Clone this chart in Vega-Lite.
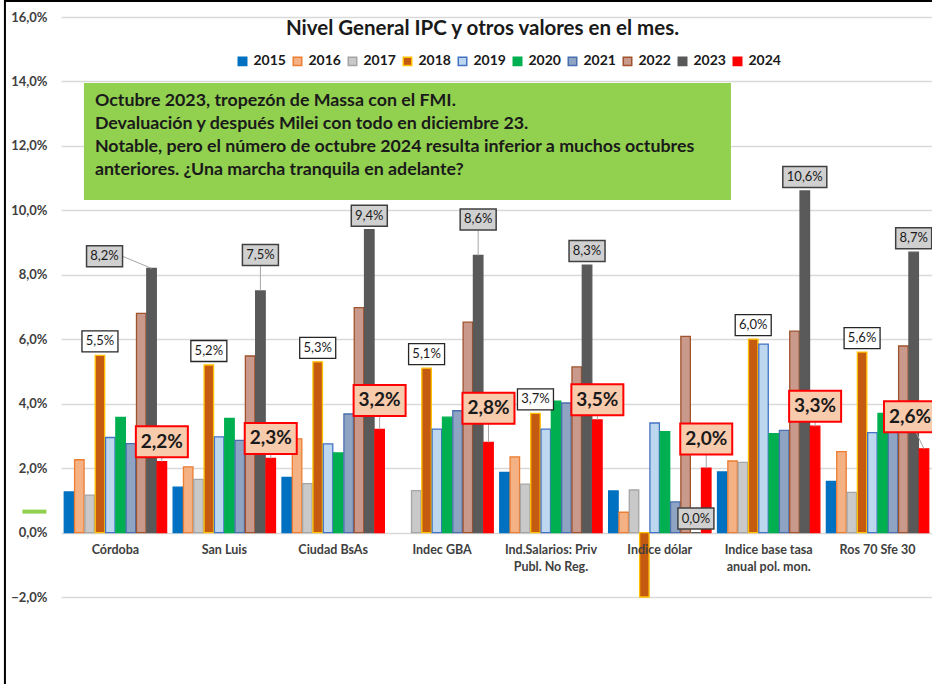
{
  "$schema": "https://vega.github.io/schema/vega-lite/v6.json",
  "width": 871,
  "height": 580,
  "autosize": {"type": "none"},
  "padding": {"left": 61, "top": 17, "right": 0, "bottom": 87},
  "background": "white",
  "config": {"view": {"stroke": null}, "font": "Lato"},
  "title": {"text": "Nivel General IPC y otros valores en el mes.", "font": "Lato", "fontSize": 20.5, "fontWeight": "bold", "color": "#1a1a1a", "anchor": "middle", "frame": "group", "offset": -42, "dx": -14},
  "datasets": {
    "ipc": [
      {"cat": "Córdoba", "year": "2015", "value": 1.26}, {"cat": "Córdoba", "year": "2016", "value": 2.26}, {"cat": "Córdoba", "year": "2017", "value": 1.16}, {"cat": "Córdoba", "year": "2018", "value": 5.5}, {"cat": "Córdoba", "year": "2019", "value": 2.95}, {"cat": "Córdoba", "year": "2020", "value": 3.57}, {"cat": "Córdoba", "year": "2021", "value": 2.76}, {"cat": "Córdoba", "year": "2022", "value": 6.8}, {"cat": "Córdoba", "year": "2023", "value": 8.2}, {"cat": "Córdoba", "year": "2024", "value": 2.2},
      {"cat": "San Luis", "year": "2015", "value": 1.41}, {"cat": "San Luis", "year": "2016", "value": 2.04}, {"cat": "San Luis", "year": "2017", "value": 1.65}, {"cat": "San Luis", "year": "2018", "value": 5.2}, {"cat": "San Luis", "year": "2019", "value": 2.97}, {"cat": "San Luis", "year": "2020", "value": 3.54}, {"cat": "San Luis", "year": "2021", "value": 2.86}, {"cat": "San Luis", "year": "2022", "value": 5.48}, {"cat": "San Luis", "year": "2023", "value": 7.5}, {"cat": "San Luis", "year": "2024", "value": 2.3},
      {"cat": "Ciudad BsAs", "year": "2015", "value": 1.71}, {"cat": "Ciudad BsAs", "year": "2016", "value": 2.91}, {"cat": "Ciudad BsAs", "year": "2017", "value": 1.52}, {"cat": "Ciudad BsAs", "year": "2018", "value": 5.3}, {"cat": "Ciudad BsAs", "year": "2019", "value": 2.75}, {"cat": "Ciudad BsAs", "year": "2020", "value": 2.47}, {"cat": "Ciudad BsAs", "year": "2021", "value": 3.68}, {"cat": "Ciudad BsAs", "year": "2022", "value": 6.98}, {"cat": "Ciudad BsAs", "year": "2023", "value": 9.4}, {"cat": "Ciudad BsAs", "year": "2024", "value": 3.2},
      {"cat": "Indec  GBA", "year": "2017", "value": 1.3}, {"cat": "Indec  GBA", "year": "2018", "value": 5.1}, {"cat": "Indec  GBA", "year": "2019", "value": 3.21}, {"cat": "Indec  GBA", "year": "2020", "value": 3.58}, {"cat": "Indec  GBA", "year": "2021", "value": 3.78}, {"cat": "Indec  GBA", "year": "2022", "value": 6.53}, {"cat": "Indec  GBA", "year": "2023", "value": 8.6}, {"cat": "Indec  GBA", "year": "2024", "value": 2.8},
      {"cat": "Ind.Salarios: Priv Publ. No Reg.", "year": "2015", "value": 1.87}, {"cat": "Ind.Salarios: Priv Publ. No Reg.", "year": "2016", "value": 2.35}, {"cat": "Ind.Salarios: Priv Publ. No Reg.", "year": "2017", "value": 1.5}, {"cat": "Ind.Salarios: Priv Publ. No Reg.", "year": "2018", "value": 3.7}, {"cat": "Ind.Salarios: Priv Publ. No Reg.", "year": "2019", "value": 3.21}, {"cat": "Ind.Salarios: Priv Publ. No Reg.", "year": "2020", "value": 4.08}, {"cat": "Ind.Salarios: Priv Publ. No Reg.", "year": "2021", "value": 4.02}, {"cat": "Ind.Salarios: Priv Publ. No Reg.", "year": "2022", "value": 5.14}, {"cat": "Ind.Salarios: Priv Publ. No Reg.", "year": "2023", "value": 8.3}, {"cat": "Ind.Salarios: Priv Publ. No Reg.", "year": "2024", "value": 3.5},
      {"cat": "Indice dólar", "year": "2015", "value": 1.29}, {"cat": "Indice dólar", "year": "2016", "value": 0.63}, {"cat": "Indice dólar", "year": "2017", "value": 1.32}, {"cat": "Indice dólar", "year": "2018", "value": -2.0}, {"cat": "Indice dólar", "year": "2019", "value": 3.4}, {"cat": "Indice dólar", "year": "2020", "value": 3.13}, {"cat": "Indice dólar", "year": "2021", "value": 0.95}, {"cat": "Indice dólar", "year": "2022", "value": 6.09}, {"cat": "Indice dólar", "year": "2023", "value": 0.0}, {"cat": "Indice dólar", "year": "2024", "value": 2.0},
      {"cat": "Indice base tasa anual pol. mon.", "year": "2015", "value": 1.88}, {"cat": "Indice base tasa anual pol. mon.", "year": "2016", "value": 2.22}, {"cat": "Indice base tasa anual pol. mon.", "year": "2017", "value": 2.18}, {"cat": "Indice base tasa anual pol. mon.", "year": "2018", "value": 6.0}, {"cat": "Indice base tasa anual pol. mon.", "year": "2019", "value": 5.85}, {"cat": "Indice base tasa anual pol. mon.", "year": "2020", "value": 3.07}, {"cat": "Indice base tasa anual pol. mon.", "year": "2021", "value": 3.17}, {"cat": "Indice base tasa anual pol. mon.", "year": "2022", "value": 6.25}, {"cat": "Indice base tasa anual pol. mon.", "year": "2023", "value": 10.6}, {"cat": "Indice base tasa anual pol. mon.", "year": "2024", "value": 3.3},
      {"cat": "Ros 70 Sfe 30", "year": "2015", "value": 1.59}, {"cat": "Ros 70 Sfe 30", "year": "2016", "value": 2.51}, {"cat": "Ros 70 Sfe 30", "year": "2017", "value": 1.25}, {"cat": "Ros 70 Sfe 30", "year": "2018", "value": 5.6}, {"cat": "Ros 70 Sfe 30", "year": "2019", "value": 3.1}, {"cat": "Ros 70 Sfe 30", "year": "2020", "value": 3.7}, {"cat": "Ros 70 Sfe 30", "year": "2021", "value": 3.4}, {"cat": "Ros 70 Sfe 30", "year": "2022", "value": 5.79}, {"cat": "Ros 70 Sfe 30", "year": "2023", "value": 8.7}, {"cat": "Ros 70 Sfe 30", "year": "2024", "value": 2.6}
    ]
  },
  "layer": [
    {
      "data": {"name": "ipc"},
      "transform": [{"calculate": "replace(format(datum.value, '.1f'), '.', ',') + '%'", "as": "lbl"}],
      "encoding": {
        "x": {
          "field": "cat", "type": "nominal", "title": null,
          "sort": ["Córdoba", "San Luis", "Ciudad BsAs", "Indec  GBA", "Ind.Salarios: Priv Publ. No Reg.", "Indice dólar", "Indice base tasa anual pol. mon.", "Ros 70 Sfe 30"],
          "scale": {"paddingInner": 0.06, "paddingOuter": 0.03},
          "axis": {"orient": "bottom", "offset": -64.4, "bandPosition": 0.5, "domain": false, "ticks": false, "labelAngle": 0, "labelAlign": "center", "labelFont": "Lato", "labelFontSize": 12.5, "labelFontWeight": "bold", "labelColor": "#404040", "labelPadding": 11, "labelLineHeight": 17, "labelBaseline": "top", "zindex": 1,
            "labelExpr": "datum.label == 'Ind.Salarios: Priv Publ. No Reg.' ? ['Ind.Salarios: Priv', 'Publ. No Reg.'] : datum.label == 'Indice base tasa anual pol. mon.' ? ['Indice base tasa', 'anual pol. mon.'] : datum.label"}
        },
        "xOffset": {"field": "year", "type": "nominal", "scale": {"paddingInner": 0.08}},
        "y": {
          "field": "value", "type": "quantitative", "title": null,
          "scale": {"domain": [-2, 16], "nice": false, "zero": false},
          "axis": {"values": [-2, 0, 2, 4, 6, 8, 10, 12, 14, 16], "grid": true, "gridColor": "#D9D9D9", "gridWidth": 1.5, "domain": false, "ticks": false, "labelFont": "Lato", "labelFontSize": 13, "labelFontWeight": "bold", "labelColor": "#404040", "labelPadding": 14,
            "labelExpr": "replace(format(datum.value, '.1f'), '.', ',') + '%'"}
        }
      },
      "layer": [
        {
          "mark": {"type": "bar", "strokeWidth": 1.3},
          "encoding": {
            "fill": {"field": "year", "type": "nominal", "title": null,
              "scale": {"domain": ["2015", "2016", "2017", "2018", "2019", "2020", "2021", "2022", "2023", "2024"], "range": ["#0070C0", "#F4B183", "#C9C9C9", "#C55A11", "#BDD7EE", "#00B050", "#8EA4C2", "#C99A8B", "#595959", "#FF0000"]},
              "legend": {"orient": "none", "legendX": 174.5, "legendY": 37, "direction": "horizontal", "columns": 10, "symbolType": "square", "symbolSize": 72, "symbolStrokeWidth": 1.5, "labelFont": "Lato", "labelFontSize": 14, "labelFontWeight": "bold", "labelColor": "#1a1a1a", "columnPadding": 3, "labelOffset": 4, "padding": 0}},
            "stroke": {"field": "year", "type": "nominal", "title": null,
              "scale": {"domain": ["2015", "2016", "2017", "2018", "2019", "2020", "2021", "2022", "2023", "2024"], "range": ["#0070C0", "#ED7D31", "#A5A5A5", "#FFC000", "#4472C4", "#00B050", "#4A6FB0", "#A0522D", "#595959", "#FF0000"]}}
          }
        },
        {
          "transform": [{"filter": "datum.year == '2018' && datum.value > 0"}],
          "mark": {"type": "point", "shape": "M-18,-24.5H18V-3.5H-18Z", "size": 4, "filled": true, "fill": "white", "stroke": "#262626", "strokeWidth": 1.3, "opacity": 1}
        },
        {
          "transform": [{"filter": "datum.year == '2018' && datum.value > 0"}],
          "mark": {"type": "text", "dy": -14, "baseline": "middle", "align": "center", "font": "Lato", "fontSize": 13, "color": "#1a1a1a"},
          "encoding": {"text": {"field": "lbl"}}
        },
        {
          "transform": [{"filter": "datum.year == '2023' && indexof(['Ciudad BsAs', 'Ind.Salarios: Priv Publ. No Reg.', 'Indice dólar', 'Indice base tasa anual pol. mon.', 'Ros 70 Sfe 30'], datum.cat) >= 0"}],
          "mark": {"type": "point", "size": 4, "filled": true, "fill": "#D0D0D0", "stroke": "#404040", "strokeWidth": 1.5, "opacity": 1},
          "encoding": {"shape": {"condition": {"test": "datum.value >= 10", "value": "M-22,-24.5H22V-3.5H-22Z"}, "value": "M-18,-24.5H18V-3.5H-18Z"}}
        },
        {
          "transform": [{"filter": "datum.year == '2023' && indexof(['Ciudad BsAs', 'Ind.Salarios: Priv Publ. No Reg.', 'Indice dólar', 'Indice base tasa anual pol. mon.', 'Ros 70 Sfe 30'], datum.cat) >= 0"}],
          "mark": {"type": "text", "dy": -14, "baseline": "middle", "align": "center", "font": "Lato", "fontSize": 13, "color": "#1a1a1a"},
          "encoding": {"text": {"field": "lbl"}}
        },
        {
          "transform": [{"filter": "datum.year == '2023' && (datum.cat == 'San Luis' || datum.cat == 'Indec  GBA')"}],
          "mark": {"type": "point", "shape": "M0,0V-25.5", "size": 4, "filled": false, "stroke": "#A6A6A6", "strokeWidth": 1, "opacity": 1}
        },
        {
          "transform": [{"filter": "datum.year == '2023' && (datum.cat == 'San Luis' || datum.cat == 'Indec  GBA')"}],
          "mark": {"type": "point", "shape": "M-18,-46.5H18V-25.5H-18Z", "size": 4, "filled": true, "fill": "#D0D0D0", "stroke": "#404040", "strokeWidth": 1.5, "opacity": 1}
        },
        {
          "transform": [{"filter": "datum.year == '2023' && (datum.cat == 'San Luis' || datum.cat == 'Indec  GBA')"}],
          "mark": {"type": "text", "dy": -36, "baseline": "middle", "align": "center", "font": "Lato", "fontSize": 13, "color": "#1a1a1a"},
          "encoding": {"text": {"field": "lbl"}}
        },
        {
          "transform": [{"filter": "datum.year == '2023' && datum.cat == 'Córdoba'"}],
          "mark": {"type": "point", "shape": "M-29,-12L0,0", "size": 4, "filled": false, "stroke": "#A6A6A6", "strokeWidth": 1, "opacity": 1}
        },
        {
          "transform": [{"filter": "datum.year == '2023' && datum.cat == 'Córdoba'"}],
          "mark": {"type": "point", "shape": "M-65,-22.5H-29V-1.5H-65Z", "size": 4, "filled": true, "fill": "#D0D0D0", "stroke": "#404040", "strokeWidth": 1.5, "opacity": 1}
        },
        {
          "transform": [{"filter": "datum.year == '2023' && datum.cat == 'Córdoba'"}],
          "mark": {"type": "text", "dx": -47, "dy": -12, "baseline": "middle", "align": "center", "font": "Lato", "fontSize": 13, "color": "#1a1a1a"},
          "encoding": {"text": {"field": "lbl"}}
        },
        {
          "transform": [{"filter": "datum.year == '2024' && indexof(['Córdoba', 'San Luis', 'Ind.Salarios: Priv Publ. No Reg.', 'Indice base tasa anual pol. mon.'], datum.cat) >= 0"}],
          "mark": {"type": "point", "shape": "M0,0V-4.5", "size": 4, "filled": false, "stroke": "#A6A6A6", "strokeWidth": 1, "opacity": 1}
        },
        {
          "transform": [{"filter": "datum.year == '2024' && indexof(['Córdoba', 'San Luis', 'Ind.Salarios: Priv Publ. No Reg.', 'Indice base tasa anual pol. mon.'], datum.cat) >= 0"}],
          "mark": {"type": "point", "shape": "M-26,-35.5H26V-4.5H-26Z", "size": 4, "filled": true, "fill": "#F8CBAD", "stroke": "#FF0000", "strokeWidth": 2, "opacity": 1}
        },
        {
          "transform": [{"filter": "datum.year == '2024' && indexof(['Córdoba', 'San Luis', 'Ind.Salarios: Priv Publ. No Reg.', 'Indice base tasa anual pol. mon.'], datum.cat) >= 0"}],
          "mark": {"type": "text", "dy": -20, "baseline": "middle", "align": "center", "font": "Lato", "fontSize": 19, "fontWeight": "bold", "color": "#1a1a1a"},
          "encoding": {"text": {"field": "lbl"}}
        },
        {
          "transform": [{"filter": "datum.year == '2024' && (datum.cat == 'Indice dólar' || datum.cat == 'Ciudad BsAs')"}],
          "mark": {"type": "point", "shape": "M0,0V-13.5", "size": 4, "filled": false, "stroke": "#A6A6A6", "strokeWidth": 1, "opacity": 1}
        },
        {
          "transform": [{"filter": "datum.year == '2024' && (datum.cat == 'Indice dólar' || datum.cat == 'Ciudad BsAs')"}],
          "mark": {"type": "point", "shape": "M-26,-44.5H26V-13.5H-26Z", "size": 4, "filled": true, "fill": "#F8CBAD", "stroke": "#FF0000", "strokeWidth": 2, "opacity": 1}
        },
        {
          "transform": [{"filter": "datum.year == '2024' && (datum.cat == 'Indice dólar' || datum.cat == 'Ciudad BsAs')"}],
          "mark": {"type": "text", "dy": -29, "baseline": "middle", "align": "center", "font": "Lato", "fontSize": 19, "fontWeight": "bold", "color": "#1a1a1a"},
          "encoding": {"text": {"field": "lbl"}}
        },
        {
          "transform": [{"filter": "datum.year == '2024' && datum.cat == 'Indec  GBA'"}],
          "mark": {"type": "point", "shape": "M0,0V-18.5", "size": 4, "filled": false, "stroke": "#A6A6A6", "strokeWidth": 1, "opacity": 1}
        },
        {
          "transform": [{"filter": "datum.year == '2024' && datum.cat == 'Indec  GBA'"}],
          "mark": {"type": "point", "shape": "M-26,-49.5H26V-18.5H-26Z", "size": 4, "filled": true, "fill": "#F8CBAD", "stroke": "#FF0000", "strokeWidth": 2, "opacity": 1}
        },
        {
          "transform": [{"filter": "datum.year == '2024' && datum.cat == 'Indec  GBA'"}],
          "mark": {"type": "text", "dy": -34, "baseline": "middle", "align": "center", "font": "Lato", "fontSize": 19, "fontWeight": "bold", "color": "#1a1a1a"},
          "encoding": {"text": {"field": "lbl"}}
        },
        {
          "transform": [{"filter": "datum.year == '2024' && datum.cat == 'Ros 70 Sfe 30'"}],
          "mark": {"type": "point", "shape": "M0,0L-8,-16.5", "size": 4, "filled": false, "stroke": "#A6A6A6", "strokeWidth": 1, "opacity": 1}
        },
        {
          "transform": [{"filter": "datum.year == '2024' && datum.cat == 'Ros 70 Sfe 30'"}],
          "mark": {"type": "point", "shape": "M-40,-47.5H12V-16.5H-40Z", "size": 4, "filled": true, "fill": "#F8CBAD", "stroke": "#FF0000", "strokeWidth": 2, "opacity": 1}
        },
        {
          "transform": [{"filter": "datum.year == '2024' && datum.cat == 'Ros 70 Sfe 30'"}],
          "mark": {"type": "text", "dx": -14, "dy": -32, "baseline": "middle", "align": "center", "font": "Lato", "fontSize": 19, "fontWeight": "bold", "color": "#1a1a1a"},
          "encoding": {"text": {"field": "lbl"}}
        }
      ]
    },
    {
      "data": {"values": [{}]},
      "mark": {"type": "point", "shape": "M-93,0H-69", "size": 4, "filled": false, "stroke": "#92D050", "strokeWidth": 4, "opacity": 1},
      "encoding": {"x": {"datum": "Córdoba"}, "y": {"datum": 0.65}}
    },
    {
      "data": {"values": [{}]},
      "mark": {"type": "point", "shape": "M-31.5,-63H615.5V54H-31.5Z", "size": 4, "filled": true, "fill": "#92D050", "strokeWidth": 0, "opacity": 1},
      "encoding": {"x": {"datum": "Córdoba"}, "y": {"datum": 12}}
    },
    {
      "data": {"values": [{}]},
      "mark": {"type": "text", "align": "left", "baseline": "top", "dx": -20.5, "dy": -54, "font": "Lato", "fontSize": 17.8, "fontWeight": "bold", "color": "#1a1a1a", "lineHeight": 23},
      "encoding": {
        "x": {"datum": "Córdoba"}, "y": {"datum": 12},
        "text": {"value": ["Octubre 2023, tropezón de Massa con el FMI.", "Devaluación y después Milei con todo en diciembre 23.", "Notable, pero el número de octubre 2024 resulta inferior a muchos octubres", "anteriores. ¿Una marcha tranquila en adelante?"]}
      }
    },
    {
      "data": {"values": [{}]},
      "mark": {"type": "point", "shape": "M-110.5,672V-16H820", "size": 4, "filled": false, "stroke": "#000000", "strokeWidth": 2, "opacity": 1},
      "encoding": {"x": {"datum": "Córdoba"}, "y": {"datum": 16}}
    }
  ]
}
